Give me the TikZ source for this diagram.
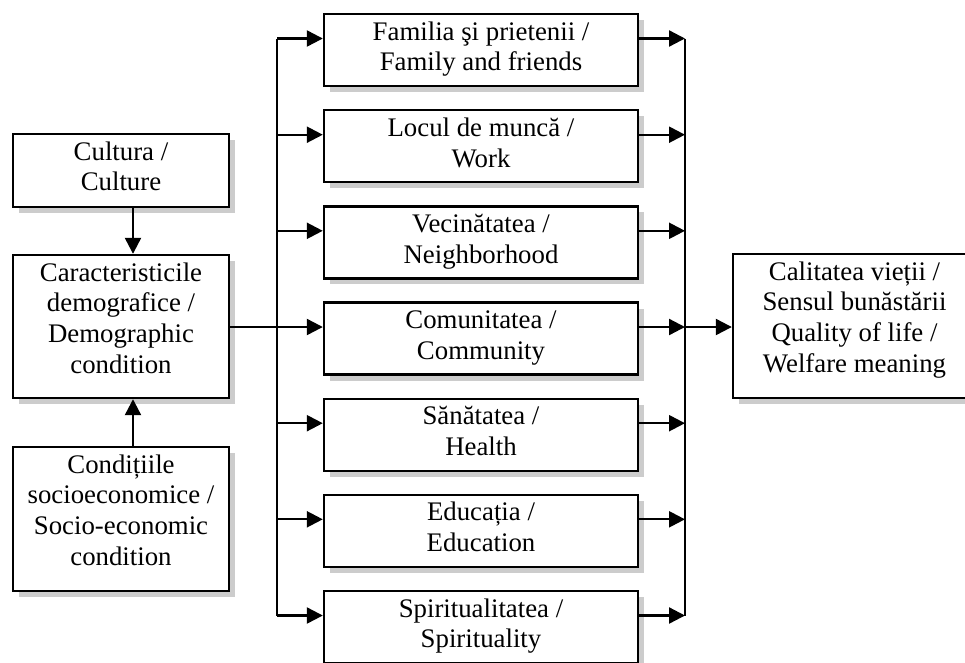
\documentclass[tikz,border=0pt]{standalone}
\usepackage{fontspec}
\setmainfont{Liberation Serif}
\usetikzlibrary{arrows.meta,calc}
\tikzset{
  box/.style={draw, line width=2.4pt, fill=white, inner sep=0pt, rectangle},
  shade/.style={fill=gray!40},
  conn/.style={line width=2.3pt},
  arr/.style={conn, -{Triangle[length=16pt,width=16pt]}},
  lbl/.style={align=center, anchor=base, inner sep=0pt, font=\fontsize{26.8}{30.8}\selectfont}
}
% #7 = number of text lines; anchor=base is the baseline of the last line
\newcommand\mybox[7]{%
  \fill[shade] ({#2+6},{#3+6}) rectangle ({#4+6},{#5+6});
  \node[box, minimum width={#4-#2}, minimum height={#5-#3}] (#1) at ({(#2+#4)/2},{(#3+#5)/2}) {};
  \node[lbl] (#1t) at ({(#2+#4)/2},{#3+26+(#7-1)*30.8}) {#6};
}
\begin{document}
\begin{tikzpicture}[x=1pt,y=-1pt]
\clip (0,0) rectangle (965,662);
\fill[white] (0,0) rectangle (965,662);
% left column
\mybox{cul}{13}{134}{229}{207}{Cultura /\\Culture}{2}
\mybox{car}{13}{255}{229}{398}{Caracteristicile\\demografice /\\Demographic\\condition}{4}
\mybox{cond}{13}{447}{229}{591}{Condițiile\\socioeconomice /\\Socio-economic\\condition}{4}
% middle column
\mybox{m1}{324}{14}{638}{86}{Familia şi prietenii /\\Family and friends}{2}
\mybox{m2}{324}{110.2}{638}{182.2}{Locul de muncă /\\Work}{2}
\mybox{m3}{324}{206.3}{638}{278.3}{Vecinătatea /\\Neighborhood}{2}
\mybox{m4}{324}{302.5}{638}{374.5}{Comunitatea /\\Community}{2}
\mybox{m5}{324}{398.7}{638}{470.7}{Sănătatea /\\Health}{2}
\mybox{m6}{324}{494.8}{638}{566.8}{Educația /\\Education}{2}
\mybox{m7}{324}{591}{638}{663}{Spiritualitatea /\\Spirituality}{2}
% right box
\mybox{cal}{733}{254}{976}{398}{Calitatea vieții /\\Sensul bunăstării\\Quality of life /\\Welfare meaning}{4}
% helper coordinates
\coordinate (tl) at (277,0);
\coordinate (tr) at (685,0);
\coordinate (ax) at (133,0);
\foreach \i in {1,...,7}{
  \coordinate (a\i) at ($(m\i.west)+(0,-11.5)$);
  \coordinate (b\i) at ($(m\i.east)+(0,-11.5)$);
}
% trunks
\draw[conn] (tl |- a1) -- (tl |- a7);
\draw[conn] (tr |- b1) -- (tr |- b7);
\foreach \i in {1,...,7}{
  \draw[arr] (tl |- a\i) -- (a\i);
  \draw[arr] (b\i) -- (tr |- b\i);
}
\draw[conn] (car.east |- a4) -- (tl |- a4);
\draw[arr] (tr |- b4) -- (cal.west |- b4);
\draw[arr] (cul.south -| ax) -- (car.north -| ax);
\draw[arr] (cond.north -| ax) -- (car.south -| ax);
\end{tikzpicture}
\end{document}
